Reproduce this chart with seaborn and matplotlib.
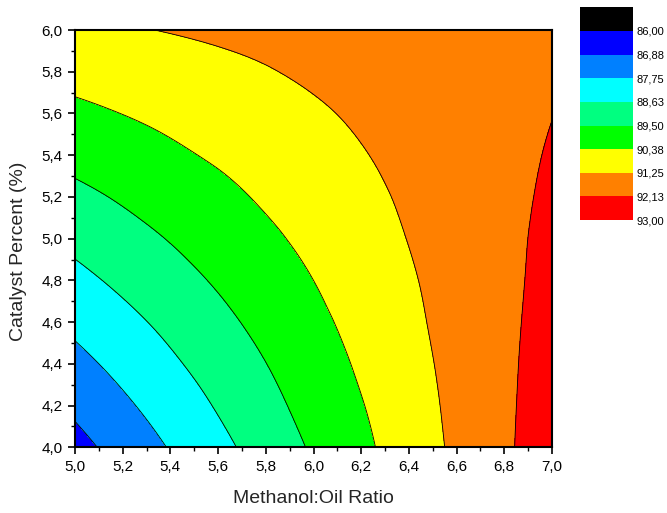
import numpy as np
import matplotlib
matplotlib.use("Agg")
import matplotlib.pyplot as plt
import matplotlib.tri as mtri
from matplotlib.colors import ListedColormap, BoundaryNorm
from matplotlib.ticker import MultipleLocator, FuncFormatter
import seaborn as sns

# ---- data ----
methanol_ratio = [5.0, 5.2, 5.4, 5.6, 5.8, 6.0, 6.2, 6.4, 6.6, 6.8, 7.0]
catalyst_pct = [4.0, 4.2, 4.4, 4.6, 4.8, 5.0, 5.2, 5.4, 5.6, 5.8, 6.0]
# yield (%) at each (catalyst row, methanol column)
yield_grid = [
    [86.60, 87.20, 87.80, 88.40, 89.00, 89.60, 90.20, 90.80, 91.40, 92.00, 92.60],
    [87.05, 87.60, 88.15, 88.70, 89.25, 89.80, 90.34, 90.89, 91.44, 91.99, 92.54],
    [87.50, 88.00, 88.50, 88.99, 89.49, 89.99, 90.49, 90.99, 91.48, 91.98, 92.48],
    [87.95, 88.40, 88.84, 89.29, 89.74, 90.19, 90.63, 91.08, 91.53, 91.97, 92.42],
    [88.40, 88.80, 89.19, 89.59, 89.98, 90.38, 90.78, 91.17, 91.57, 91.96, 92.36],
    [88.85, 89.20, 89.54, 89.89, 90.23, 90.58, 90.92, 91.27, 91.61, 91.96, 92.30],
    [89.30, 89.59, 89.89, 90.18, 90.48, 90.77, 91.06, 91.36, 91.65, 91.95, 92.24],
    [89.75, 89.99, 90.24, 90.48, 90.72, 90.97, 91.21, 91.45, 91.69, 91.94, 92.18],
    [90.20, 90.39, 90.58, 90.78, 90.97, 91.16, 91.35, 91.54, 91.74, 91.93, 92.12],
    [90.65, 90.79, 90.93, 91.07, 91.21, 91.36, 91.50, 91.64, 91.78, 91.92, 92.06],
    [91.10, 91.19, 91.28, 91.37, 91.46, 91.55, 91.64, 91.73, 91.82, 91.91, 92.00],
]
levels = [86.00, 86.88, 87.75, 88.63, 89.50, 90.38, 91.25, 92.13, 93.00]
level_colors = ["#0000FF", "#0080FF", "#00FFFF", "#00FF80",
                "#00FF00", "#FFFF00", "#FF8000", "#FF0000"]
under_color = "#000000"

# ---- style ----
sns.set_theme(style="ticks")
plt.rcParams["font.family"] = ["Liberation Sans", "DejaVu Sans"]

fig = plt.figure(figsize=(6.67, 5.13), dpi=100)
ax = fig.add_axes([75 / 667, 1 - 447.3 / 513, (552 - 75) / 667, (447.3 - 30) / 513])

X, Y = np.meshgrid(methanol_ratio, catalyst_pct)
Z = np.array(yield_grid)

# smooth rendering of the measured grid with matplotlib's triangulation refiner
tri = mtri.Triangulation(X.ravel(), Y.ravel())
interp = mtri.CubicTriInterpolator(tri, Z.ravel(), kind="min_E")
refiner = mtri.UniformTriRefiner(tri)
tri_f, z_f = refiner.refine_field(Z.ravel(), triinterpolator=interp, subdiv=3)

cmap = ListedColormap(level_colors)
cmap.set_under(under_color)
norm = BoundaryNorm(levels, cmap.N)

cs = ax.tricontourf(tri_f, z_f, levels=levels, cmap=cmap, norm=norm, extend="min")
ax.tricontour(tri_f, z_f, levels=levels, colors="black", linewidths=0.6)

comma = FuncFormatter(lambda v, p: f"{v:.1f}".replace(".", ","))
ax.set_xlim(5.0, 7.0)
ax.set_ylim(4.0, 6.0)
ax.xaxis.set_major_locator(MultipleLocator(0.2))
ax.xaxis.set_minor_locator(MultipleLocator(0.1))
ax.yaxis.set_major_locator(MultipleLocator(0.2))
ax.yaxis.set_minor_locator(MultipleLocator(0.1))
ax.xaxis.set_major_formatter(comma)
ax.yaxis.set_major_formatter(comma)
ax.tick_params(which="major", direction="out", length=5, width=1.2,
               labelsize=11, colors="black", pad=4)
ax.tick_params(which="minor", direction="out", length=2.8, width=1.0, colors="black")
ax.tick_params(top=False, right=False)
for s in ax.spines.values():
    s.set_linewidth(1.5)
    s.set_color("black")
    s.set_visible(True)

ax.set_xlabel("Methanol:Oil Ratio", fontsize=14)
ax.set_ylabel("Catalyst Percent (%)", fontsize=14)
ax.xaxis.set_label_coords(0.5, -0.102)
ax.yaxis.set_label_coords(-0.100, 0.47)

# ---- colour scale legend ----
cax = fig.add_axes([580 / 667, 1 - 220 / 513, (633 - 580) / 667, (220 - 7) / 513])
cb = fig.colorbar(cs, cax=cax, extend="min", extendrect=True,
                  extendfrac=24 / 189, ticks=levels, drawedges=False)
cb.ax.invert_yaxis()
cb.outline.set_visible(False)
cb.ax.yaxis.set_major_formatter(FuncFormatter(lambda v, p: f"{v:.2f}".replace(".", ",")))
cb.ax.tick_params(length=0, labelsize=8, pad=2.5, colors="black")
cb.ax.minorticks_off()

fig.savefig("out.png", dpi=100)
